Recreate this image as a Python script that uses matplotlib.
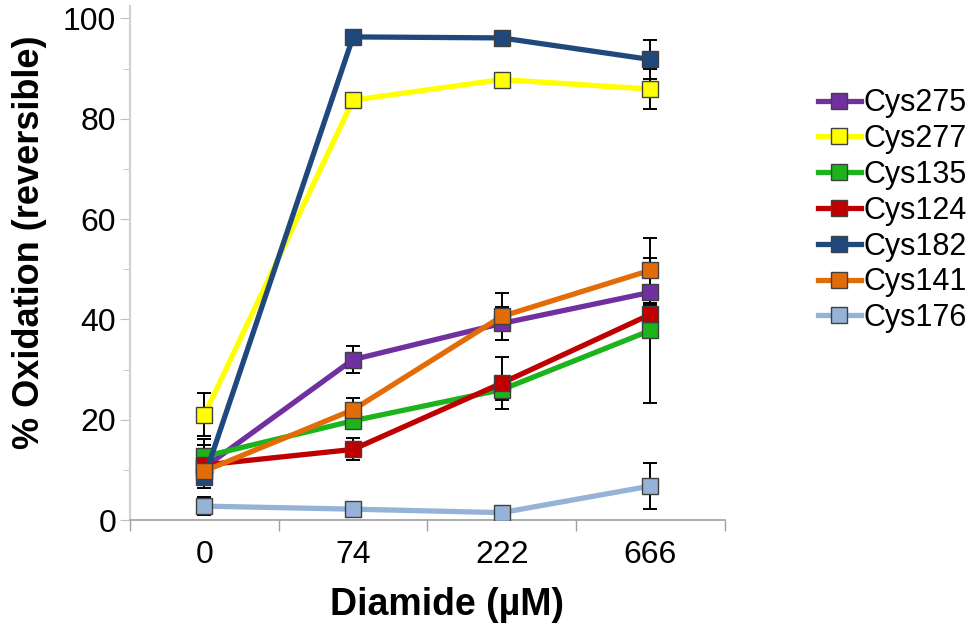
import matplotlib
matplotlib.use("Agg")
import matplotlib.pyplot as plt
from matplotlib.ticker import FixedLocator, MultipleLocator

plt.rcParams["font.family"] = ["Liberation Sans", "DejaVu Sans"]

doses = ["0", "74", "222", "666"]
series_names = ["Cys275", "Cys277", "Cys135", "Cys124", "Cys182", "Cys141", "Cys176"]
values = [
    [10.5, 32.0, 39.2, 45.4],
    [21.0, 83.7, 87.8, 85.9],
    [12.7, 19.8, 26.0, 37.8],
    [11.0, 14.1, 27.3, 41.0],
    [8.6, 96.3, 96.1, 91.8],
    [9.8, 22.0, 40.6, 49.8],
    [2.8, 2.2, 1.5, 6.8],
]
errors = [
    [2.0, 2.7, 3.2, 1.5],
    [4.3, 1.0, 0.8, 4.0],
    [3.5, 1.5, 2.0, 14.5],
    [4.0, 2.2, 5.2, 1.8],
    [2.2, 1.0, 0.6, 3.8],
    [2.0, 2.3, 4.6, 6.5],
    [1.8, 0.6, 0.5, 4.6],
]
colors = ["#7030A0", "#FFFF00", "#1DB31D", "#C00000", "#1F497D", "#E36C09", "#95B3D7"]

fig = plt.figure(figsize=(9.78, 6.29), dpi=100)
ax = fig.add_axes([0.133, 0.173, 0.608, 0.817])

x = list(range(len(doses)))
for name, vals, errs, col in zip(series_names, values, errors, colors):
    ax.errorbar(x, vals, yerr=errs, fmt="none", ecolor="black", elinewidth=1.4,
                capsize=5, capthick=1.4, zorder=2)
    ax.plot(x, vals, color=col, linewidth=3.8, marker="s", markersize=12,
            markerfacecolor=col, markeredgecolor="#404040", markeredgewidth=1.0,
            label=name, zorder=3)

ax.set_xlim(-0.5, len(doses) - 0.5)
ax.set_ylim(0, 102.4)
ax.set_xticks(x)
ax.set_xticklabels(doses)
ax.xaxis.set_minor_locator(FixedLocator([i + 0.5 for i in range(-1, len(doses))]))
ax.tick_params(axis="x", which="major", length=0, labelsize=23, pad=14)
ax.tick_params(axis="x", which="minor", length=8, color="#a0a0a0", width=1)
ax.set_yticks([0, 20, 40, 60, 80, 100])
ax.yaxis.set_minor_locator(MultipleLocator(10))
ax.tick_params(axis="y", which="major", length=7, color="#c0c0c0", labelsize=23, pad=3)
ax.tick_params(axis="y", which="minor", length=5, color="#c0c0c0")

for side in ["top", "right"]:
    ax.spines[side].set_visible(False)
ax.spines["left"].set_color("#d0d0d0")
ax.spines["left"].set_linewidth(1.5)
ax.spines["bottom"].set_color("#a0a0a0")
ax.spines["bottom"].set_linewidth(1.2)

ax.set_xlabel("Diamide (µM)", fontsize=27, fontweight="bold")
ax.set_ylabel("% Oxidation (reversible)", fontsize=26, fontweight="bold")
ax.xaxis.set_label_coords(0.533, -0.13)
ax.yaxis.set_label_coords(-0.14, 0.54)

fig.legend(loc="upper left", bbox_to_anchor=(0.824, 0.879), frameon=False,
           fontsize=22, handlelength=1.4, handletextpad=0.1, labelspacing=0.19,
           borderaxespad=0)

fig.savefig("out.png", dpi=100)
